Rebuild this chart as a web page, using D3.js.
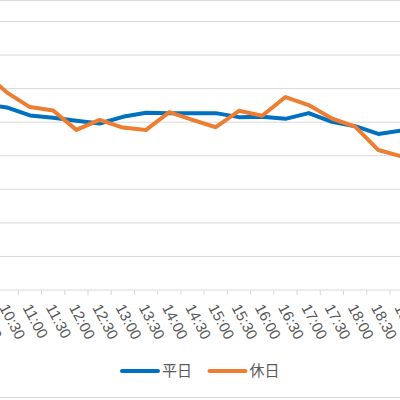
<!DOCTYPE html>
<html>
<head>
<meta charset="utf-8">
<script src="https://cdn.jsdelivr.net/npm/d3@7"></script>
<style>
  body { margin: 0; background: #fff; }
  svg { display: block; font-family: "Noto Sans CJK JP", "Noto Sans", sans-serif; }
</style>
</head>
<body>
<div id="chart-area"></div>
<script>
// categories (half-hour slots); the picture is cropped so 10:00 and 19:30 sit off the edges
const times = ["10:00", "10:30", "11:00", "11:30", "12:00", "12:30", "13:00", "13:30", "14:00", "14:30",
               "15:00", "15:30", "16:00", "16:30", "17:00", "17:30", "18:00", "18:30", "19:00", "19:30"];
const weekday = [55.4, 54.4, 52.0, 51.3, 50.4, 49.6, 51.6, 52.8, 52.7, 52.7,
                 52.7, 51.5, 51.6, 51.0, 52.7, 50.1, 48.8, 46.5, 47.5, 47.0];
const holiday = [65.0, 58.9, 54.5, 53.5, 47.7, 50.7, 48.4, 47.7, 53.0, 50.7,
                 48.5, 53.4, 51.9, 57.5, 55.1, 51.1, 48.7, 41.7, 39.8, 38.5];
const yTicks = [0, 10, 20, 30, 40, 50, 60, 70, 80];
const seriesNames = ["平日", "休日"];
const seriesColors = ["#0070C0", "#ED7D31"];

const renderChart = () => {
    const w = 400;
    const h = 400;
    const step = 23.23;
    const firstEdge = 18.3 - 2 * step;   // left edge of the 10:00 band
    const axisY = 290;
    const topY = 21.5;

    const svg = d3.select("#chart-area")
        .append("svg")
        .attr("width", w)
        .attr("height", h);

    // chart frame (only top and bottom are in view)
    svg.append("rect")
        .attr("x", -10)
        .attr("y", 0.5)
        .attr("width", w + 20)
        .attr("height", 397)
        .attr("fill", "none")
        .attr("stroke", "#d9d9d9");

    const xScale = d3.scaleBand()
        .domain(times)
        .range([firstEdge, firstEdge + step * times.length]);

    const yScale = d3.scaleLinear()
        .domain([0, 80])
        .range([axisY, topY]);

    // gridlines
    svg.append("g")
        .selectAll("line")
        .data(yTicks.slice(1))
        .enter()
        .append("line")
        .attr("x1", -10)
        .attr("x2", w + 10)
        .attr("y1", d => yScale(d))
        .attr("y2", d => yScale(d))
        .attr("stroke", "#d9d9d9")
        .attr("stroke-width", 1);

    // x axis: labels at band centres, tick marks at band edges
    const xAxis = d3.axisBottom(xScale).tickSize(0).tickPadding(0);
    const gx = svg.append("g")
        .attr("id", "x-axis")
        .attr("transform", "translate(0," + axisY + ")")
        .call(xAxis);

    gx.select(".domain")
        .attr("d", "M-10,0H" + (w + 10))
        .attr("stroke", "#d9d9d9");

    gx.selectAll(".tick text")
        .attr("x", 0)
        .attr("y", 0)
        .attr("dy", "0.35em")
        .attr("text-anchor", "start")
        .attr("transform", "translate(-3,15) rotate(62)")
        .attr("fill", "#595959")
        .style("font-size", "15px");

    gx.selectAll(".edge")
        .data(times)
        .enter()
        .append("line")
        .attr("class", "edge")
        .attr("x1", d => xScale(d))
        .attr("x2", d => xScale(d))
        .attr("y1", 0)
        .attr("y2", 5)
        .attr("stroke", "#d9d9d9");

    // lines
    const line = d3.line()
        .x((d, i) => xScale(times[i]) + xScale.bandwidth() / 2)
        .y(d => yScale(d));

    [weekday, holiday].forEach((values, k) => {
        svg.append("path")
            .datum(values)
            .attr("d", line)
            .attr("fill", "none")
            .attr("stroke", seriesColors[k])
            .attr("stroke-width", 4)
            .attr("stroke-linejoin", "round")
            .attr("stroke-linecap", "round");
    });

    // legend
    const legend = svg.append("g")
        .attr("transform", "translate(122,371)");

    const item = legend.selectAll("g")
        .data(seriesNames)
        .enter()
        .append("g")
        .attr("transform", (d, i) => "translate(" + (i * 87.5) + ",0)");

    item.append("line")
        .attr("x1", 0)
        .attr("x2", 36)
        .attr("stroke", (d, i) => seriesColors[i])
        .attr("stroke-width", 4)
        .attr("stroke-linecap", "round");

    item.append("text")
        .attr("x", 40)
        .attr("dy", "0.35em")
        .attr("fill", "#595959")
        .style("font-size", "15px")
        .text(d => d);
}

renderChart();
</script>
</body>
</html>
